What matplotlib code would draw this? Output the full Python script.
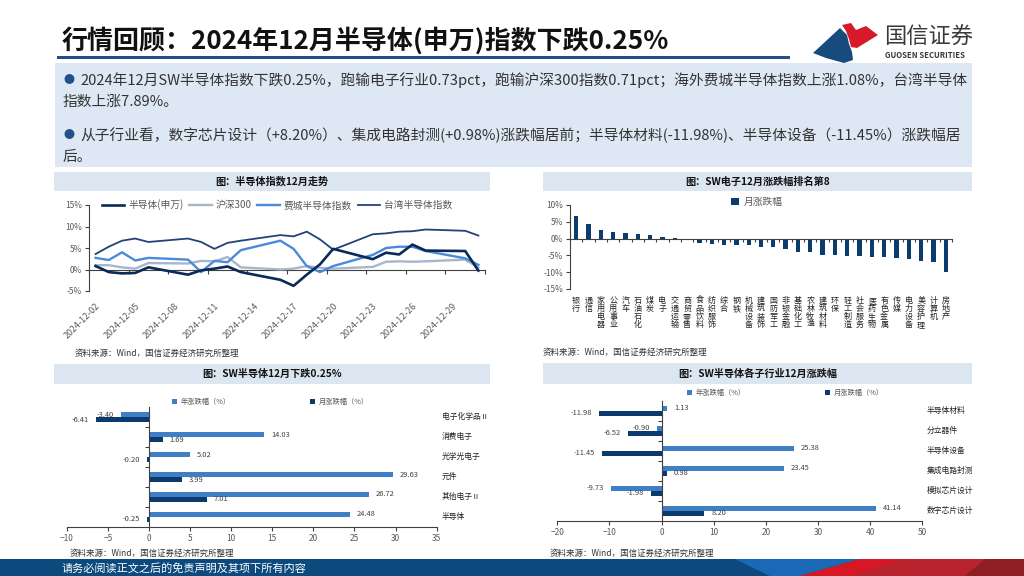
import numpy as np
import matplotlib.pyplot as plt
from matplotlib.patches import Rectangle, Polygon

plt.rcParams['font.family'] = ['Noto Sans CJK SC', 'DejaVu Sans']

W, H = 1024, 576

# ---- data: 半导体指数12月走势 (cumulative %, trading days of Dec 2024)
days = [2, 3, 4, 5, 6, 9, 10, 11, 12, 13, 16, 17, 18, 19, 20, 23, 24, 25, 26, 27, 30, 31]
sw_semi = [0.8, -0.6, -0.9, -0.8, 0.5, -1.2, -0.2, 0.2, 0.7, -0.6, -2.4, -3.8, -1.2, 1.2, 4.8,
           2.4, 3.9, 3.5, 5.8, 4.4, 4.3, -0.25]
hs300 = [1.0, 1.0, 0.5, 0.2, 1.5, 1.4, 2.0, 1.9, 2.9, 0.5, 0.0, 0.2, 0.8, 0.4, 0.2,
         0.6, 1.8, 1.9, 1.8, 1.9, 2.3, 0.47]
sox = [2.7, 2.2, 4.0, 2.1, 2.7, 2.3, -0.6, 2.0, 1.7, 4.5, 6.7, 4.8, 0.8, -0.6, 0.8,
       3.4, 5.0, 5.3, 5.3, 4.3, 2.6, 1.08]
taiwan = [3.6, 5.3, 6.7, 7.2, 6.4, 7.2, 6.4, 4.8, 6.2, 6.7, 8.0, 7.7, 8.8, 7.0, 4.6,
          8.2, 8.4, 8.8, 8.9, 9.3, 9.0, 7.89]
date_ticks = [2, 5, 8, 11, 14, 17, 20, 23, 26, 29]

# ---- data: SW一级行业12月涨跌幅
industries = ['银行', '通信', '家用电器', '公用事业', '汽车', '石油石化', '煤炭', '电子', '交通运输',
              '商贸零售', '食品饮料', '纺织服饰', '综合', '钢铁', '机械设备', '建筑装饰', '国防军工',
              '非银金融', '基础化工', '农林牧渔', '建筑材料', '环保', '轻工制造', '社会服务', '医药生物',
              '有色金属', '传媒', '电力设备', '美容护理', '计算机', '房地产']
ind_month = [6.6, 4.3, 2.7, 2.1, 1.6, 1.5, 1.2, 0.48, 0.1, -0.05, -1.2, -1.7, -1.8, -1.9, -1.9,
             -2.6, -2.6, -3.2, -4.0, -4.0, -4.8, -4.9, -5.1, -5.1, -5.5, -5.5, -5.7, -6.0,
             -6.6, -7.0, -9.8]

# ---- data: SW电子二级行业
elec_cats = ['电子化学品Ⅱ', '消费电子', '光学光电子', '元件', '其他电子Ⅱ', '半导体']
elec_year = [-3.40, 14.03, 5.02, 29.63, 26.72, 24.48]
elec_month = [-6.41, 1.69, -0.20, 3.99, 7.01, -0.25]

# ---- data: SW半导体子行业
semi_cats = ['半导体材料', '分立器件', '半导体设备', '集成电路封测', '模拟芯片设计', '数字芯片设计']
semi_year = [1.13, -0.90, 25.38, 23.45, -9.73, 41.14]
semi_month = [-11.98, -6.52, -11.45, 0.98, -1.98, 8.20]

TXT = '#333333'
GREY = '#595959'
BAR_BG = '#DCE6F1'

fig = plt.figure(figsize=(10.24, 5.76), dpi=100)


def rect(x0, y0, x1, y1):
    return [x0 / W, 1 - y1 / H, (x1 - x0) / W, (y1 - y0) / H]


def px(x, y):
    return (x / W, 1 - y / H)


def box(x0, y0, x1, y1, color):
    fig.add_artist(Rectangle(px(x0, y1), (x1 - x0) / W, (y1 - y0) / H,
                             transform=fig.transFigure, color=color, lw=0, zorder=0))


def poly(pts, color):
    fig.add_artist(Polygon([px(x, y) for x, y in pts], closed=True, transform=fig.transFigure,
                           color=color, lw=0))


# ---- header
fig.text(*px(62, 41), '行情回顾：2024年12月半导体(申万)指数下跌0.25%', fontsize=18.7,
         fontweight='bold', color='#111111', va='center', ha='left')
box(57, 56, 790, 59, '#24508A')
poly([(813, 53), (840, 28), (847, 35), (849, 44), (852, 52), (853, 60), (844, 63), (826, 58)], '#174B7E')
poly([(842, 25), (851, 23), (856, 30), (866, 26), (878, 35), (857, 48), (851, 47), (849, 39), (846, 31)],
     '#D7192A')
fig.text(*px(884, 37), '国信证券', fontsize=16, color='#3A3A3A', va='center', ha='left')
fig.text(*px(885, 56), 'GUOSEN SECURITIES', fontsize=5.6, fontweight='bold', color='#3A3A3A',
         va='center', ha='left')

# ---- summary box
box(55, 63, 972, 167, '#DEE8F4')
BS = 10.6
fig.text(*px(64, 80), '●', fontsize=8, color='#24508A', va='center', ha='left')
fig.text(*px(64, 135), '●', fontsize=8, color='#24508A', va='center', ha='left')
fig.text(*px(80, 80), '2024年12月SW半导体指数下跌0.25%，跑输电子行业0.73pct，跑输沪深300指数0.71pct；'
         '海外费城半导体指数上涨1.08%，台湾半导体', fontsize=BS, color=TXT, va='center', ha='left')
fig.text(*px(63, 102), '指数上涨7.89%。', fontsize=BS, color=TXT, va='center', ha='left')
fig.text(*px(80, 135), '从子行业看，数字芯片设计（+8.20%）、集成电路封测(+0.98%)涨跌幅居前；'
         '半导体材料(-11.98%)、半导体设备（-11.45%）涨跌幅居', fontsize=BS, color=TXT,
         va='center', ha='left')
fig.text(*px(63, 157), '后。', fontsize=BS, color=TXT, va='center', ha='left')

# ---- panel title bars
panels = [((54, 172, 490, 191), '图：半导体指数12月走势'),
          ((543, 172, 972, 191), '图：SW电子12月涨跌幅排名第8'),
          ((54, 364, 490, 384), '图：SW半导体12月下跌0.25%'),
          ((543, 363, 972, 384), '图：SW半导体各子行业12月涨跌幅')]
for (x0, y0, x1, y1), t in panels:
    box(x0, y0, x1, y1, BAR_BG)
    fig.text(*px((x0 + x1) / 2, (y0 + y1) / 2), t, fontsize=7.3, fontweight='bold',
             color='#111111', ha='center', va='center')

src = '资料来源：Wind，国信证券经济研究所整理'
for x, y in [(75, 353), (543, 352), (70, 553), (550, 553)]:
    fig.text(*px(x, y), src, fontsize=6.1, color=TXT, ha='left', va='center')

# ---- top-left: line chart
ax1 = fig.add_axes(rect(89, 205, 485, 291))
xs = np.array(days) + 0.5
l1, = ax1.plot(xs, sw_semi, color='#0A2A57', lw=1.9, zorder=5, label='半导体(申万)')
l2, = ax1.plot(xs, hs300, color='#A7B6CB', lw=1.7, zorder=3, label='沪深300')
l3, = ax1.plot(xs, sox, color='#4A8ADB', lw=1.7, zorder=4, label='费城半导体指数')
l4, = ax1.plot(xs, taiwan, color='#22427A', lw=1.3, zorder=4, label='台湾半导体指数')
ax1.set_xlim(2, 32)
ax1.set_ylim(-5, 15)
ax1.set_yticks([-5, 0, 5, 10, 15])
ax1.set_yticklabels([f'{v}%' for v in [-5, 0, 5, 10, 15]])
for s in ['top', 'right']:
    ax1.spines[s].set_visible(False)
ax1.spines['bottom'].set_position(('data', 0))
for s in ['left', 'bottom']:
    ax1.spines[s].set_color('#404040')
    ax1.spines[s].set_linewidth(0.8)
ax1.set_xticks(date_ticks + [32])
ax1.tick_params(axis='x', labelbottom=False, length=3, direction='out', color='#404040')
ax1.tick_params(axis='y', labelsize=6, labelcolor=GREY, length=3, color='#404040', pad=2)
for d in date_ticks:
    ax1.text(d + 0.5, -0.12, f'2024-12-{d:02d}', transform=ax1.get_xaxis_transform(),
             rotation=45, rotation_mode='anchor', ha='right', va='top', fontsize=6.4, color=GREY)
ax1.legend(handles=[l1, l2, l3, l4], ncol=4, loc='center', bbox_to_anchor=px(277, 205),
           bbox_transform=fig.transFigure, frameon=False, fontsize=7, handlelength=2.3,
           handletextpad=0.4, columnspacing=0.6, labelcolor=GREY)

# ---- top-right: industry bars
ax2 = fig.add_axes(rect(570, 205, 952, 289))
xi = np.arange(len(industries))
b = ax2.bar(xi, ind_month, width=0.35, color='#0B3B6F', label='月涨跌幅')
ax2.set_xlim(-0.5, len(industries) - 0.5)
ax2.set_ylim(-15, 10)
ax2.set_yticks([-15, -10, -5, 0, 5, 10])
ax2.set_yticklabels([f'{v}%' for v in [-15, -10, -5, 0, 5, 10]])
for s in ['top', 'right']:
    ax2.spines[s].set_visible(False)
ax2.spines['bottom'].set_position(('data', 0))
for s in ['left', 'bottom']:
    ax2.spines[s].set_color('#404040')
    ax2.spines[s].set_linewidth(0.8)
ax2.set_xticks(np.arange(-0.5, len(industries), 1.0))
ax2.tick_params(axis='x', labelbottom=False, length=2.5, color='#404040')
ax2.tick_params(axis='y', labelsize=6, labelcolor=GREY, length=3, color='#404040', pad=2)
for i, name in enumerate(industries):
    ax2.text(i, -0.085, '\n'.join(name), transform=ax2.get_xaxis_transform(), ha='center',
             va='top', fontsize=5.8, linespacing=0.85, color='#222222')
ax2.legend(handles=[b], loc='center', bbox_to_anchor=px(757, 202), bbox_transform=fig.transFigure,
           frameon=False, fontsize=7, handlelength=0.8, handleheight=0.8, handletextpad=0.5,
           labelcolor=GREY)


# ---- bottom: horizontal bar panels
def hbar_panel(r, cats, year, month, xlim, xticks, label_px, leg_y, leg_x):
    ax = fig.add_axes(rect(*r))
    y = np.arange(len(cats))
    h = 0.25
    by = ax.barh(y - h / 2, year, height=h, color='#3F7FC6', label='年涨跌幅（%）')
    bm = ax.barh(y + h / 2, month, height=h, color='#0B3A6D', label='月涨跌幅（%）')
    ax.set_xlim(*xlim)
    ax.set_ylim(len(cats) - 0.5, -0.5)
    ax.set_xticks(xticks)
    ax.set_yticks(np.arange(0.5, len(cats) - 1, 1.0))
    ax.tick_params(axis='y', labelleft=False, length=3, color='#404040')
    ax.tick_params(axis='x', labelsize=6, labelcolor=GREY, length=3, color='#404040', pad=2)
    for s in ['top', 'right']:
        ax.spines[s].set_visible(False)
    ax.spines['left'].set_position(('data', 0))
    for s in ['left', 'bottom']:
        ax.spines[s].set_color('#404040')
        ax.spines[s].set_linewidth(0.8)
    for vals, off in [(year, -h / 2), (month, h / 2)]:
        for yi, v in zip(y, vals):
            ax.annotate(f'{v:.2f}', (v, yi + off), xytext=(5 if v >= 0 else -5, 0),
                        textcoords='offset points', ha='left' if v >= 0 else 'right',
                        va='center', fontsize=5.4, color='#404040')
    lx = (label_px - r[0]) / (r[2] - r[0])
    for yi, c in zip(y, cats):
        ax.text(lx, yi, c, transform=ax.get_yaxis_transform(), ha='left', va='center',
                fontsize=5.6, color='#222222')
    ax.legend(handles=[by, bm], ncol=2, loc='center left', bbox_to_anchor=px(leg_x, leg_y),
              bbox_transform=fig.transFigure, frameon=False, fontsize=5.2, handlelength=0.7,
              handleheight=0.7, handletextpad=0.5, columnspacing=11, labelcolor=GREY)
    return ax


hbar_panel((66.7, 407.4, 436.7, 526.8), elec_cats, elec_year, elec_month, (-10, 35),
           range(-10, 36, 5), 442, 402, 165)
hbar_panel((557.3, 400.7, 922.3, 520.7), semi_cats, semi_year, semi_month, (-20, 50),
           range(-20, 51, 10), 927, 393, 680)

# ---- footer
box(0, 559, 1024, 576, '#0C4A7E')
poly([(735, 559), (860, 559), (800, 576), (770, 576)], '#1A69B6')
poly([(860, 559), (1024, 559), (1024, 576), (800, 576)], '#B8232E')
poly([(860, 559), (905, 559), (850, 576), (800, 576)], '#D51823')
poly([(985, 559), (1024, 559), (1024, 576), (965, 576)], '#8E1E24')
fig.text(*px(62, 568), '请务必阅读正文之后的免责声明及其项下所有内容', fontsize=8, color='white',
         ha='left', va='center')

fig.savefig('out.png', dpi=100)
